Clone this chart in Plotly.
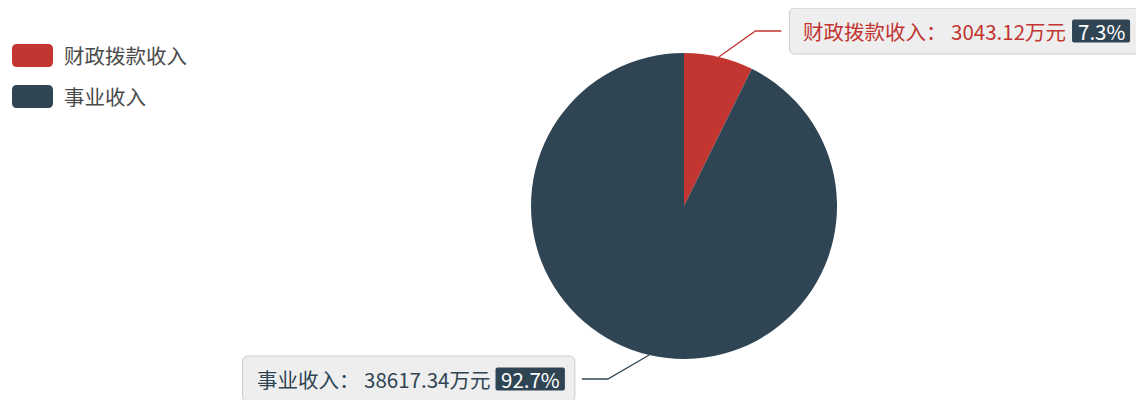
import math
import plotly.graph_objects as go

categories = ["财政拨款收入", "事业收入"]
values = [3043.12, 38617.34]
colors = ["#c23531", "#2f4554"]
unit = "万元"

# page has an 8px body margin; figure is sized so it fills the 1144x400 window
OFF = 8
W, H = 1144 - OFF, 400 - OFF
cx, cy, R = 684, 206, 153
FONT = "Noto Sans CJK SC, Microsoft YaHei, sans-serif"
FS = 20.5


def px(x):
    return (x - OFF) / W


def py(y):
    return 1 - (y - OFF) / H


def text_width(s, size):
    w = 0
    for ch in s:
        if ord(ch) > 0x2E80:
            w += size
        elif ch.isdigit():
            w += 0.553 * size
        elif ch == ".":
            w += 0.27 * size
        elif ch == " ":
            w += 0.224 * size
        elif ch == "%":
            w += 0.87 * size
        else:
            w += 0.5 * size
    return w


def rounded(x0, y0, x1, y1, r):
    return (f"M {px(x0 + r)},{py(y0)} L {px(x1 - r)},{py(y0)} Q {px(x1)},{py(y0)} {px(x1)},{py(y0 + r)} "
            f"L {px(x1)},{py(y1 - r)} Q {px(x1)},{py(y1)} {px(x1 - r)},{py(y1)} L {px(x0 + r)},{py(y1)} "
            f"Q {px(x0)},{py(y1)} {px(x0)},{py(y1 - r)} L {px(x0)},{py(y0 + r)} Q {px(x0)},{py(y0)} {px(x0 + r)},{py(y0)} Z")


fig = go.Figure(
    go.Pie(
        labels=categories,
        values=values,
        sort=False,
        direction="clockwise",
        rotation=0,
        marker=dict(colors=colors, line=dict(width=0)),
        textinfo="none",
        hoverinfo="label+value+percent",
        showlegend=False,
        domain=dict(x=[px(cx - R), px(cx + R)], y=[py(cy + R), py(cy - R)]),
    )
)

shapes = []
annotations = []

# custom legend
for i, (cat, col) in enumerate(zip(categories, colors)):
    yc = 55.5 + i * 41
    shapes.append(dict(type="path", xref="paper", yref="paper",
                       path=rounded(12, yc - 11.5, 53, yc + 11.5, 5),
                       fillcolor=col, line=dict(width=0)))
    annotations.append(dict(x=px(62), y=py(yc), xref="paper", yref="paper", text=cat,
                            showarrow=False, xanchor="left", yanchor="middle",
                            font=dict(family=FONT, size=FS, color="#4a4a4a")))

# labels with leader lines
total = sum(values)
cum = 0
r_bend = R + 36
y_min, y_max = 31, 379
for cat, val, col in zip(categories, values, colors):
    frac = val / total
    theta = 2 * math.pi * (cum + frac / 2)
    cum += frac
    sx, sy = cx + R * math.sin(theta), cy - R * math.cos(theta)
    by = cy - r_bend * math.cos(theta)
    by = min(max(by, y_min), y_max)
    side = 1 if math.sin(theta) >= 0 else -1
    bx = cx + side * math.sqrt(max(r_bend ** 2 - (by - cy) ** 2, 0))
    ex = bx + side * 26
    shapes.append(dict(type="path", xref="paper", yref="paper",
                       path=f"M {px(sx)},{py(sy)} L {px(bx)},{py(by)} L {px(ex)},{py(by)}",
                       line=dict(color=col, width=1.3)))
    main = f"{cat}： {val:.2f}{unit}"
    pct = f"{frac * 100:.1f}%"
    tw = text_width(main, FS)
    bw = text_width(pct, FS) + 12
    box_w = 12 + tw + 8 + bw + 10
    if side > 0:
        bl = ex + 8
        br = bl + box_w
    else:
        br = ex - 7
        bl = br - box_w
    bt, bb = by - 23, by + 23
    shapes.append(dict(type="path", xref="paper", yref="paper", path=rounded(bl, bt, br, bb, 6),
                       fillcolor="#eeeeee", line=dict(color="#cccccc", width=1)))
    annotations.append(dict(x=px(bl + 12), y=py(by), xref="paper", yref="paper", text=main,
                            showarrow=False, xanchor="left", yanchor="middle",
                            font=dict(family=FONT, size=FS, color=col)))
    # percentage badge
    bdr = br - 10
    bdl = bdr - bw
    shapes.append(dict(type="path", xref="paper", yref="paper",
                       path=rounded(bdl, by - 11.5, bdr, by + 11.5, 2),
                       fillcolor="#2f4554", line=dict(width=0)))
    annotations.append(dict(x=px((bdl + bdr) / 2), y=py(by), xref="paper", yref="paper", text=pct,
                            showarrow=False, xanchor="center", yanchor="middle",
                            font=dict(family=FONT, size=FS, color="#ffffff")))

fig.update_layout(
    width=W, height=H,
    margin=dict(l=0, r=0, t=0, b=0),
    paper_bgcolor="#ffffff",
    plot_bgcolor="#ffffff",
    shapes=shapes,
    annotations=annotations,
    font=dict(family=FONT),
)

fig.write_html("out.html")
